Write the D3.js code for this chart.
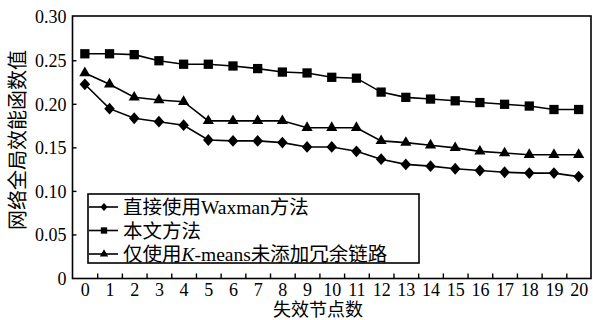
<!DOCTYPE html>
<html>
<head>
<meta charset="utf-8">
<script src="https://cdn.jsdelivr.net/npm/d3@7/dist/d3.min.js"></script>
<style>
  html, body { margin: 0; padding: 0; background: #fff; }
  svg { display: block; }
</style>
</head>
<body>
<svg id="chart" width="593" height="320"></svg>
<script>
// Failed-node counts on the x axis
const failedNodes = d3.range(0, 21);

// Global network efficiency for each method
const waxmanOnly = [0.223, 0.195, 0.184, 0.180, 0.176, 0.159, 0.158, 0.158, 0.156, 0.151, 0.151,
                    0.146, 0.137, 0.131, 0.129, 0.126, 0.124, 0.122, 0.121, 0.121, 0.117];
const proposed   = [0.258, 0.258, 0.257, 0.250, 0.246, 0.246, 0.244, 0.241, 0.237, 0.236, 0.231,
                    0.230, 0.214, 0.208, 0.206, 0.204, 0.202, 0.200, 0.198, 0.194, 0.194];
const kmeansOnly = [0.236, 0.223, 0.208, 0.205, 0.203, 0.181, 0.181, 0.181, 0.181, 0.173, 0.173,
                    0.173, 0.158, 0.156, 0.153, 0.150, 0.146, 0.144, 0.142, 0.142, 0.142];

const yTicks = [0, 0.05, 0.10, 0.15, 0.20, 0.25, 0.30];
const yTickLabels = ["0", "0.05", "0.10", "0.15", "0.20", "0.25", "0.30"];

const xTitle = "失效节点数";
const yTitle = "网络全局效能函数值";

// A slightly tall diamond (rhombus) marker
const tallDiamond = {
  draw(context, size) {
    const w = Math.sqrt(size) * 0.62;
    const h = w * 1.12;
    context.moveTo(0, -h);
    context.lineTo(w, 0);
    context.lineTo(0, h);
    context.lineTo(-w, 0);
    context.closePath();
  }
};

const series = [
  { name: "直接使用Waxman方法", values: waxmanOnly, symbol: tallDiamond, size: 72, legendSize: 34 },
  { name: "本文方法", values: proposed, symbol: d3.symbolSquare, size: 86, legendSize: 40 },
  { name: "仅使用K-means未添加冗余链路", values: kmeansOnly, symbol: d3.symbolTriangle, size: 54, legendSize: 30 }
];

const SERIF = "'Liberation Serif', 'Times New Roman', 'Noto Sans CJK SC', serif";
const CJK = "'Noto Sans CJK SC', sans-serif";

const svg = d3.select("#chart");
const plotLeft = 72.5, plotRight = 591, plotTop = 16, plotBottom = 278.5;

const x = d3.scaleLinear().domain([-0.5, 20.5]).range([plotLeft, plotRight]);
const y = d3.scaleLinear().domain([0, 0.30]).range([plotBottom, 17.2]);

// Plot frame
svg.append("rect")
  .attr("x", plotLeft).attr("y", plotTop)
  .attr("width", plotRight - plotLeft).attr("height", plotBottom - plotTop)
  .attr("fill", "none").attr("stroke", "#000").attr("stroke-width", 1.6);

// Y axis: short inward ticks with labels on the left
const yAxis = svg.append("g")
  .attr("transform", `translate(${plotLeft},0)`)
  .call(d3.axisLeft(y).tickValues(yTicks).tickSize(0).tickPadding(6)
    .tickFormat((d, i) => yTickLabels[i]));
yAxis.select(".domain").remove();
yAxis.attr("font-family", SERIF).attr("font-size", 18);
yAxis.selectAll("text").style("font-family", SERIF).attr("font-size", 18).attr("fill", "#000");
svg.append("g").selectAll("line")
  .data(yTicks.slice(1, -1)).join("line")
  .attr("x1", plotLeft).attr("x2", plotLeft + 4)
  .attr("y1", d => y(d)).attr("y2", d => y(d))
  .attr("stroke", "#000").attr("stroke-width", 1.4);

// X axis: labels centred on each node count, ticks between them
const xAxis = svg.append("g")
  .attr("transform", `translate(0,${plotBottom})`)
  .call(d3.axisBottom(x).tickValues(failedNodes).tickSize(0).tickPadding(5)
    .tickFormat(d3.format("d")));
xAxis.select(".domain").remove();
xAxis.attr("font-family", SERIF).attr("font-size", 18);
xAxis.selectAll("text").style("font-family", SERIF).attr("font-size", 18).attr("fill", "#000");
const xTickAxis = svg.append("g")
  .attr("transform", `translate(0,${plotBottom})`)
  .call(d3.axisBottom(x).tickValues(failedNodes.slice(0, -1).map(d => d + 0.5))
    .tickSizeInner(-5).tickSizeOuter(0).tickFormat(""));
xTickAxis.select(".domain").remove();
xTickAxis.selectAll("line").attr("stroke-width", 1.4);

// Axis titles
svg.append("text")
  .attr("x", 318).attr("y", 316)
  .attr("text-anchor", "middle")
  .attr("font-size", 18)
  .style("font-family", SERIF)
  .text(xTitle);
svg.append("text")
  .attr("transform", "translate(25,140) rotate(-90)")
  .attr("text-anchor", "middle")
  .attr("font-size", 20)
  .style("font-family", CJK)
  .text(yTitle);

// Lines and markers
const line = d3.line().x((d, i) => x(failedNodes[i])).y(d => y(d));
series.forEach(s => {
  svg.append("path")
    .datum(s.values)
    .attr("d", line)
    .attr("fill", "none").attr("stroke", "#000").attr("stroke-width", 1.6);
  svg.append("g").selectAll("path")
    .data(s.values).join("path")
    .attr("transform", (d, i) => `translate(${x(failedNodes[i])},${y(d)})`)
    .attr("d", d3.symbol().type(s.symbol).size(s.size))
    .attr("fill", "#000");
});

// Legend
const legend = svg.append("g");
legend.append("rect")
  .attr("x", 88).attr("y", 194)
  .attr("width", 331).attr("height", 69)
  .attr("fill", "#fff").attr("stroke", "#000").attr("stroke-width", 1.6);
const rowY = [207, 230.5, 254];
series.forEach((s, i) => {
  const g = legend.append("g").attr("transform", `translate(0,${rowY[i]})`);
  g.append("line").attr("x1", 89).attr("x2", 118).attr("y1", 0).attr("y2", 0)
    .attr("stroke", "#000").attr("stroke-width", 1.6);
  g.append("path").attr("transform", "translate(104,0)")
    .attr("d", d3.symbol().type(s.symbol).size(s.legendSize)).attr("fill", "#000");
  const t = g.append("text").attr("x", 123).attr("y", 7)
    .attr("font-size", 19.5).style("font-family", SERIF);
  if (s.name.includes("K-means")) {
    t.append("tspan").text("仅使用");
    t.append("tspan").attr("font-style", "italic").text("K");
    t.append("tspan").text("-means未添加冗余链路");
  } else {
    t.text(s.name);
  }
});
</script>
</body>
</html>
